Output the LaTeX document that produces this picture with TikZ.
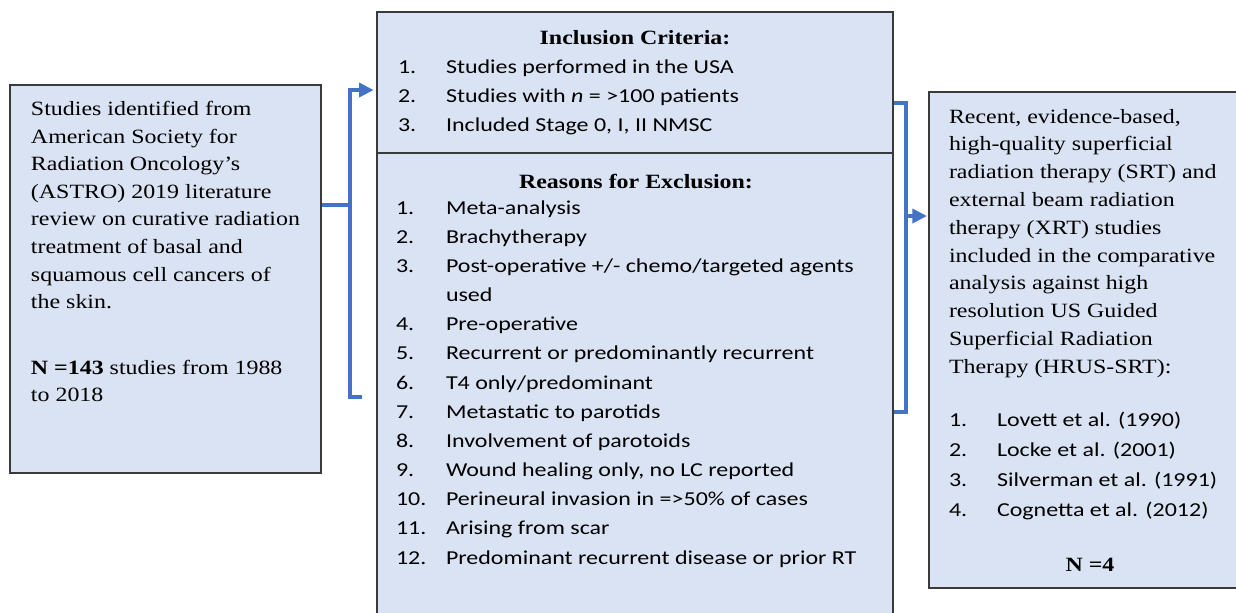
\documentclass[tikz,border=0pt]{standalone}
\usepackage{fontspec}
\usepackage{graphicx}
\usetikzlibrary{arrows.meta,fit}
\newfontfamily\tmsfont{Liberation Serif}
\newfontfamily\calfont{Carlito}
\newcommand\tmstxt[1]{\scalebox{1.18}[1]{\tmsfont\fontsize{15.2}{18}\selectfont #1}}
\newcommand\caltxt[1]{\scalebox{1.215}[1]{\calfont\fontsize{14.8}{17}\selectfont #1}}
\definecolor{boxfill}{HTML}{DAE3F3}
\definecolor{boxline}{HTML}{3A3A3A}
\definecolor{arrowblue}{HTML}{4472C4}
\tikzset{
  box/.style={draw=boxline, fill=boxfill, line width=1pt, inner sep=0pt},
  tline/.style={anchor=base west, inner sep=0pt, outer sep=0pt},
  cline/.style={anchor=base, inner sep=0pt, outer sep=0pt},
  conn/.style={draw=arrowblue, line width=3pt},
  tip/.style={-{Triangle[length=11pt,width=10.5pt]}}
}
\begin{document}
\begin{tikzpicture}[x=0.75pt,y=-0.75pt]
\useasboundingbox (0,0) rectangle (1236,612);
% boxes
\node[box, fit={(10,85) (321,473)}] (L) {};
\node[box, fit={(377,12) (893,618)}] (M) {};
\node[box, fit={(929,92) (1245,588)}] (R) {};
\draw[draw=boxline, line width=1pt] (M.west |- 0,153) -- (M.east |- 0,153);
% connectors
\coordinate (lj) at (350,205);
\coordinate (lt) at (350,90);
\coordinate (lb) at (350,397);
\coordinate (lbe) at (362,397);
\draw[conn] (L.east |- lj) -- (lj);
\draw[conn, tip] (lbe) -- (lb) -- (lt) -- ([xshift=-2pt]M.west |- lt);
\coordinate (rt) at (906,103);
\coordinate (rb) at (906,412);
\coordinate (rm) at (906,216);
\draw[conn] (M.east |- rt) -- (rt) -- (rb) -- (M.east |- rb);
\draw[conn, tip] (rm) -- ([xshift=-1pt]R.west |- rm);
% left box text
\foreach \t [count=\i] in {Studies identified from, American Society for, Radiation Oncology’s, (ASTRO) 2019 literature, review on curative radiation, treatment of basal and, squamous cell cancers of, the skin.}
  \node[tline] (lt\i) at (31, {115.5+27.6*(\i-1)}) {\tmstxt{\t}};
\node[tline] (ln1) at (31,374) {\tmstxt{\textbf{N =143} studies from 1988}};
\node[tline] (ln2) at (31,401.6) {\tmstxt{to 2018}};
% middle: inclusion
\node[cline] (inctitle) at (635,44) {\tmstxt{\textbf{Inclusion Criteria:}}};
\node[tline] (in1) at (398,73.5) {\caltxt{1.}};
\node[tline] (it1) at (446,73.5) {\caltxt{Studies performed in the USA}};
\node[tline] (in2) at (398,102.5) {\caltxt{2.}};
\node[tline] (it2) at (446,102.5) {\caltxt{Studies with \textit{n} = >100 patients}};
\node[tline] (in3) at (398,131.5) {\caltxt{3.}};
\node[tline] (it3) at (446,131.5) {\caltxt{Included Stage 0, I, II NMSC}};
% middle: exclusion
\node[cline] (exctitle) at (636,188) {\tmstxt{\textbf{Reasons for Exclusion:}}};
\foreach \n/\t/\r in {1/Meta-analysis/0, 2/Brachytherapy/1, 3/{Post-operative +/- chemo/targeted agents}/2, 4/Pre-operative/4, 5/Recurrent or predominantly recurrent/5, 6/{T4 only/predominant}/6, 7/Metastatic to parotids/7, 8/Involvement of parotoids/8, 9/{Wound healing only, no LC reported}/9, 10/Perineural invasion in =>50\% of cases/10, 11/Arising from scar/11, 12/Predominant recurrent disease or prior RT/12} {
  \node[tline] (en\n) at (396, {214+29.17*\r}) {\caltxt{\n.}};
  \node[tline] (et\n) at (446, {214+29.17*\r}) {\caltxt{\t}};
}
\node[tline] (et3b) at (446, {214+29.17*3}) {\caltxt{used}};
% right box text
\foreach \t [count=\i] in {{Recent, evidence-based,}, high-quality superficial, radiation therapy (SRT) and, external beam radiation, therapy (XRT) studies, included in the comparative, analysis against high, resolution US Guided, Superficial Radiation, Therapy (HRUS-SRT):}
  \node[tline] (rt\i) at (949, {123+27.8*(\i-1)}) {\tmstxt{\t}};
\foreach \t [count=\i] in {Lovett et al. (1990), Locke et al. (2001), Silverman et al. (1991), Cognetta et al. (2012)}
  \node[tline] (rl\i) at (949, {426+30*(\i-1)}) {\caltxt{\i.}};
\foreach \t [count=\i] in {Lovett et al. (1990), Locke et al. (2001), Silverman et al. (1991), Cognetta et al. (2012)}
  \node[tline] (rr\i) at (997, {426+30*(\i-1)}) {\caltxt{\t}};
\node[cline] (rn) at (1090,571) {\tmstxt{\textbf{N =4}}};
\end{tikzpicture}
\end{document}
